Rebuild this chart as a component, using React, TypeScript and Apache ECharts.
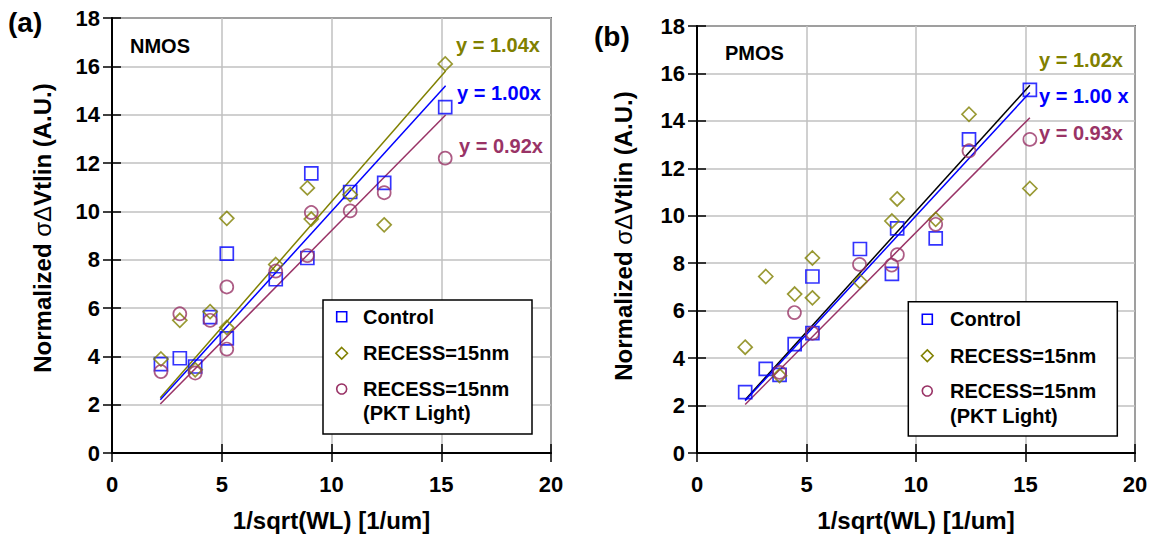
import React, { useEffect, useRef } from "react";
import * as echarts from "echarts";

const FONT = '"Liberation Sans", Arial, Helvetica, sans-serif';
const BLUE = "#0000ff";
const OLIVE = "#808000";
const MAROON = "#993366";
const GRID_GRAY = "#c0c0c0";

// ---------- Data ----------
const seriesNames = ["Control", "RECESS=15nm", "RECESS=15nm (PKT Light)"];

// (a) NMOS
const nmosX = [2.23, 3.09, 3.79, 4.47, 5.23, 5.23, 7.46, 8.9, 9.08, 10.85, 12.4, 15.18];
const nmosControl = [3.68, 3.92, 3.58, 5.62, 8.25, 4.74, 7.19, 8.07, 11.57, 10.8, 11.18, 14.31];
const nmosRecess = [3.89, 5.49, 3.44, 5.85, 9.71, 5.19, 7.8, 10.97, 9.68, 10.69, 9.44, 16.1];
const nmosPkt = [3.37, 5.76, 3.31, 5.49, 6.87, 4.3, 7.53, 8.17, 9.95, 10.02, 10.77, 12.2];
const nmosSlopes = [1.04, 1.0, 0.92];
const nmosSlopeLabels = ["y = 1.04x", "y = 1.00x", "y = 0.92x"];

// (b) PMOS
const pmosX = [2.2, 3.14, 3.77, 4.46, 5.27, 5.27, 7.44, 8.9, 9.14, 10.9, 12.42, 15.2];
const pmosControl = [2.57, 3.55, 3.29, 4.59, 7.44, 5.05, 8.6, 7.55, 9.47, 9.05, 13.22, 15.31];
const pmosRecess = [4.46, 7.44, 3.26, 6.7, 8.22, 6.54, 7.23, 9.78, 10.71, 9.85, 14.28, 11.15];
const pmosPktX = [3.77, 4.45, 5.27, 7.42, 8.89, 9.15, 10.9, 12.42, 15.2];
const pmosPkt = [3.4, 5.92, 5.05, 7.95, 7.92, 8.36, 9.64, 12.74, 13.22];
const pmosSlopes = [1.02, 1.0, 0.93];
const pmosSlopeLabels = ["y = 1.02x", "y = 1.00 x", "y = 0.93x"];

// fit line x-range
const fitRange = [2.2, 15.2];

const xTicks = { min: 0, max: 20, interval: 5 };
const yTicks = { min: 0, max: 18, interval: 2 };

// ---------- helpers ----------
const zip = (xs: number[], ys: number[]) => xs.map((x, i) => [x, ys[i]]);

function scatter(name: string, data: number[][], symbol: string, color: string, axisIdx: number) {
  return {
    type: "scatter",
    name,
    xAxisIndex: axisIdx,
    yAxisIndex: axisIdx,
    data,
    symbol,
    symbolSize: symbol === "diamond" ? 14 : 13,
    z: 4,
    itemStyle: { color: "rgba(0,0,0,0)", borderColor: color, borderWidth: 1.7 },
    emphasis: { disabled: true },
  };
}

function fitLine(slope: number, color: string, axisIdx: number) {
  return {
    type: "line",
    xAxisIndex: axisIdx,
    yAxisIndex: axisIdx,
    data: fitRange.map((x) => [x, slope * x]),
    symbol: "none",
    z: 3,
    lineStyle: { color, width: 1.5 },
    emphasis: { disabled: true },
  };
}

const tickLabel = { color: "#000", fontSize: 22, fontWeight: "bold", fontFamily: FONT };

function mainX(grid: number) {
  return {
    type: "value",
    gridIndex: grid,
    ...xTicks,
    position: "bottom",
    axisLine: { show: true, onZero: false, lineStyle: { color: "#000", width: 2 } },
    axisTick: { show: true, inside: false, length: 9, lineStyle: { color: "#000", width: 1.5 } },
    axisLabel: { ...tickLabel, margin: 20 },
    splitLine: { show: true, lineStyle: { color: GRID_GRAY, width: 1.5 } },
    name: "1/sqrt(WL) [1/um]",
    nameLocation: "middle",
    nameGap: 55,
    nameTextStyle: { color: "#000", fontSize: 24, fontWeight: "bold", fontFamily: FONT },
  };
}
function innerX(grid: number) {
  return {
    type: "value",
    gridIndex: grid,
    ...xTicks,
    position: "bottom",
    axisLine: { show: false, onZero: false },
    axisTick: { show: true, inside: true, length: 9, lineStyle: { color: "#000", width: 1.5 } },
    axisLabel: { show: false },
    splitLine: { show: false },
  };
}
function mainY(grid: number) {
  return {
    type: "value",
    gridIndex: grid,
    ...yTicks,
    position: "left",
    axisLine: { show: true, onZero: false, lineStyle: { color: "#000", width: 2 } },
    axisTick: { show: true, inside: false, length: 9, lineStyle: { color: "#000", width: 1.5 } },
    axisLabel: { ...tickLabel, margin: 12 },
    splitLine: { show: true, lineStyle: { color: GRID_GRAY, width: 1.5 } },
  };
}
function innerY(grid: number) {
  return {
    type: "value",
    gridIndex: grid,
    ...yTicks,
    position: "left",
    axisLine: { show: false, onZero: false },
    axisTick: { show: true, inside: true, length: 9, lineStyle: { color: "#000", width: 1.5 } },
    axisLabel: { show: false },
    splitLine: { show: false },
  };
}

function text(x: number, y: number, str: string, color: string, size: number, align = "left") {
  return {
    type: "text",
    x,
    y,
    z: 100,
    style: {
      text: str,
      fill: color,
      fontSize: size,
      fontWeight: "bold",
      fontFamily: FONT,
      align,
      verticalAlign: "middle",
    },
  };
}

function yTitle(x: number, y: number) {
  return {
    type: "text",
    x,
    y,
    rotation: Math.PI / 2,
    z: 100,
    style: {
      text: "{b|Normalized }{s|σΔ}{b|Vtlin (A.U.)}",
      align: "center",
      verticalAlign: "middle",
      fill: "#000",
      rich: {
        b: { fontSize: 24, fontWeight: "bold", fontFamily: FONT, fill: "#000" },
        s: { fontSize: 24, fontWeight: "normal", fontFamily: FONT, fill: "#000" },
      },
    },
  };
}

function legendBox(left: number, top: number, w: number, h: number, symX: number, textX: number, rows: number[]) {
  const s = 5;
  return [
    {
      type: "rect",
      z: 90,
      shape: { x: left, y: top, width: w, height: h },
      style: { fill: "#fff", stroke: "#000", lineWidth: 1.5 },
    },
    {
      type: "rect",
      z: 100,
      shape: { x: symX - s, y: rows[0] - s, width: 2 * s, height: 2 * s },
      style: { fill: "none", stroke: BLUE, lineWidth: 1.6 },
    },
    {
      type: "polygon",
      z: 100,
      shape: { points: [[symX, rows[1] - s - 0.8], [symX + s + 0.8, rows[1]], [symX, rows[1] + s + 0.8], [symX - s - 0.8, rows[1]]] },
      style: { fill: "none", stroke: OLIVE, lineWidth: 1.6 },
    },
    {
      type: "circle",
      z: 100,
      shape: { cx: symX, cy: rows[2], r: s },
      style: { fill: "none", stroke: MAROON, lineWidth: 1.6 },
    },
    text(textX, rows[0], seriesNames[0], "#000", 20),
    text(textX, rows[1], seriesNames[1], "#000", 20),
    text(textX, rows[2], "RECESS=15nm", "#000", 20),
    text(textX, rows[3], "(PKT Light)", "#000", 20),
  ];
}

const fitColorsA = [OLIVE, BLUE, MAROON];
const fitColorsB = ["#000000", BLUE, MAROON];
const labelColors = [OLIVE, BLUE, MAROON];

const option = {
  animation: false,
  backgroundColor: "#ffffff",
  grid: [
    { left: 112, top: 18, width: 439, height: 441, show: true, borderColor: "#000", borderWidth: 1.5, backgroundColor: "transparent" },
    { left: 697, top: 26, width: 438, height: 436, show: true, borderColor: "#000", borderWidth: 1.5, backgroundColor: "transparent" },
  ],
  xAxis: [mainX(0), mainX(1), innerX(0), innerX(1)],
  yAxis: [mainY(0), mainY(1), innerY(0), innerY(1)],
  series: [
    ...nmosSlopes.map((k, i) => fitLine(k, fitColorsA[i], 0)),
    scatter(seriesNames[0], zip(nmosX, nmosControl), "rect", BLUE, 0),
    scatter(seriesNames[1], zip(nmosX, nmosRecess), "diamond", OLIVE, 0),
    scatter(seriesNames[2], zip(nmosX, nmosPkt), "circle", MAROON, 0),
    ...pmosSlopes.map((k, i) => fitLine(k, fitColorsB[i], 1)),
    scatter(seriesNames[0], zip(pmosX, pmosControl), "rect", BLUE, 1),
    scatter(seriesNames[1], zip(pmosX, pmosRecess), "diamond", OLIVE, 1),
    scatter(seriesNames[2], zip(pmosPktX, pmosPkt), "circle", MAROON, 1),
  ],
  graphic: [
    text(8, 22, "(a)", "#000", 28),
    text(594, 36, "(b)", "#000", 28),
    text(130, 46, "NMOS", "#000", 20),
    text(725, 53, "PMOS", "#000", 20),
    yTitle(42, 228),
    yTitle(623, 236),
    text(456, 45, nmosSlopeLabels[0], labelColors[0], 20),
    text(457, 93, nmosSlopeLabels[1], labelColors[1], 20),
    text(459, 146, nmosSlopeLabels[2], labelColors[2], 20),
    text(1039, 60, pmosSlopeLabels[0], labelColors[0], 20),
    text(1039, 96, pmosSlopeLabels[1], labelColors[1], 20),
    text(1039, 133, pmosSlopeLabels[2], labelColors[2], 20),
    ...legendBox(323, 300, 209, 134, 341.7, 363, [316.7, 353.3, 389, 413.3]),
    ...legendBox(908.3, 301.7, 209, 134.3, 927.3, 950, [319.3, 355.7, 391, 416]),
  ],
};

export default function App() {
  const ref = useRef<HTMLDivElement>(null);
  useEffect(() => {
    if (!ref.current) return;
    const chart = echarts.init(ref.current, null, { renderer: "svg" });
    chart.setOption(option as any);
    return () => chart.dispose();
  }, []);
  return (
    <div
      ref={ref}
      style={{ position: "absolute", left: 0, top: 0, width: 1154, height: 537, background: "#fff" }}
    />
  );
}
